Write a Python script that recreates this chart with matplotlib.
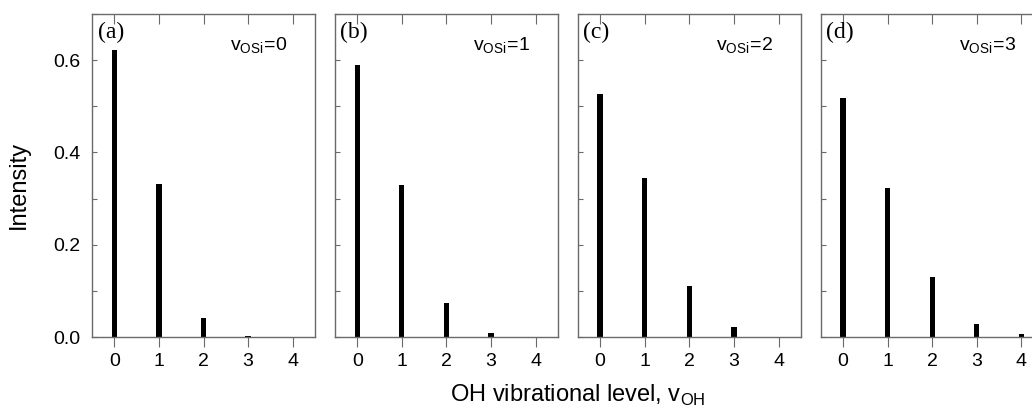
import matplotlib.pyplot as plt
from matplotlib.ticker import MultipleLocator, FormatStrFormatter

# OH vibrational populations for each v_OSi
levels = [0, 1, 2, 3, 4]
int_osi0 = [0.623, 0.332, 0.042, 0.003, 0.0]
int_osi1 = [0.590, 0.330, 0.074, 0.009, 0.0]
int_osi2 = [0.526, 0.344, 0.110, 0.021, 0.001]
int_osi3 = [0.517, 0.323, 0.130, 0.028, 0.006]
panel_tags = ["(a)", "(b)", "(c)", "(d)"]
osi_values = [0, 1, 2, 3]
series = [int_osi0, int_osi1, int_osi2, int_osi3]

plt.rcParams['font.family'] = ['Liberation Sans', 'DejaVu Sans']
plt.rcParams['mathtext.fontset'] = 'custom'
plt.rcParams['mathtext.rm'] = 'Liberation Sans'

fig = plt.figure(figsize=(10.32, 4.12), dpi=100)

LEFT = 92 / 1032
STEP = 242.9 / 1032
WIDTH = 223 / 1032
BOTTOM = 75 / 412
HEIGHT = 323 / 412
SPINE = '#6a6a6a'

for i in range(4):
    ax = fig.add_axes([LEFT + i * STEP, BOTTOM, WIDTH, HEIGHT])
    ax.bar(levels, series[i], width=0.12, color='black')
    ax.set_xlim(-0.5, 4.5)
    ax.set_ylim(0, 0.7)
    ax.set_xticks(levels)
    ax.yaxis.set_major_locator(MultipleLocator(0.2))
    ax.yaxis.set_minor_locator(MultipleLocator(0.1))
    ax.yaxis.set_major_formatter(FormatStrFormatter('%.1f'))
    for s in ax.spines.values():
        s.set_color(SPINE)
        s.set_linewidth(1.0)
    ax.tick_params(axis='x', which='both', direction='out', length=7.2, width=0.8,
                   color=SPINE, labelsize=14, pad=4.5, top=False)
    ax.tick_params(axis='y', which='both', direction='in', length=3.8, width=0.8,
                   color=SPINE, labelsize=14, pad=8.5)
    # top ticks point inward
    sec = ax.secondary_xaxis('top')
    sec.set_xticks(levels)
    sec.tick_params(direction='in', length=7.2, width=0.8, color=SPINE, labeltop=False)
    sec.spines['top'].set_visible(False)
    if i > 0:
        ax.tick_params(axis='y', labelleft=False)
    ax.text(0.025, 0.975, panel_tags[i], transform=ax.transAxes, ha='left', va='top',
            fontsize=17, family='Liberation Serif')
    ax.text(0.62, 0.905, r'$\mathregular{v_{OSi}\!=\!%d}$' % osi_values[i],
            transform=ax.transAxes, ha='left', va='center', fontsize=14)

fig.text(19 / 1032, 0.55, 'Intensity', rotation=90, ha='center', va='center', fontsize=17)
fig.text(0.56, 0.025, r'OH vibrational level, v$_\mathregular{OH}$', ha='center',
         va='baseline', fontsize=17)

fig.savefig('out.png', dpi=100)
